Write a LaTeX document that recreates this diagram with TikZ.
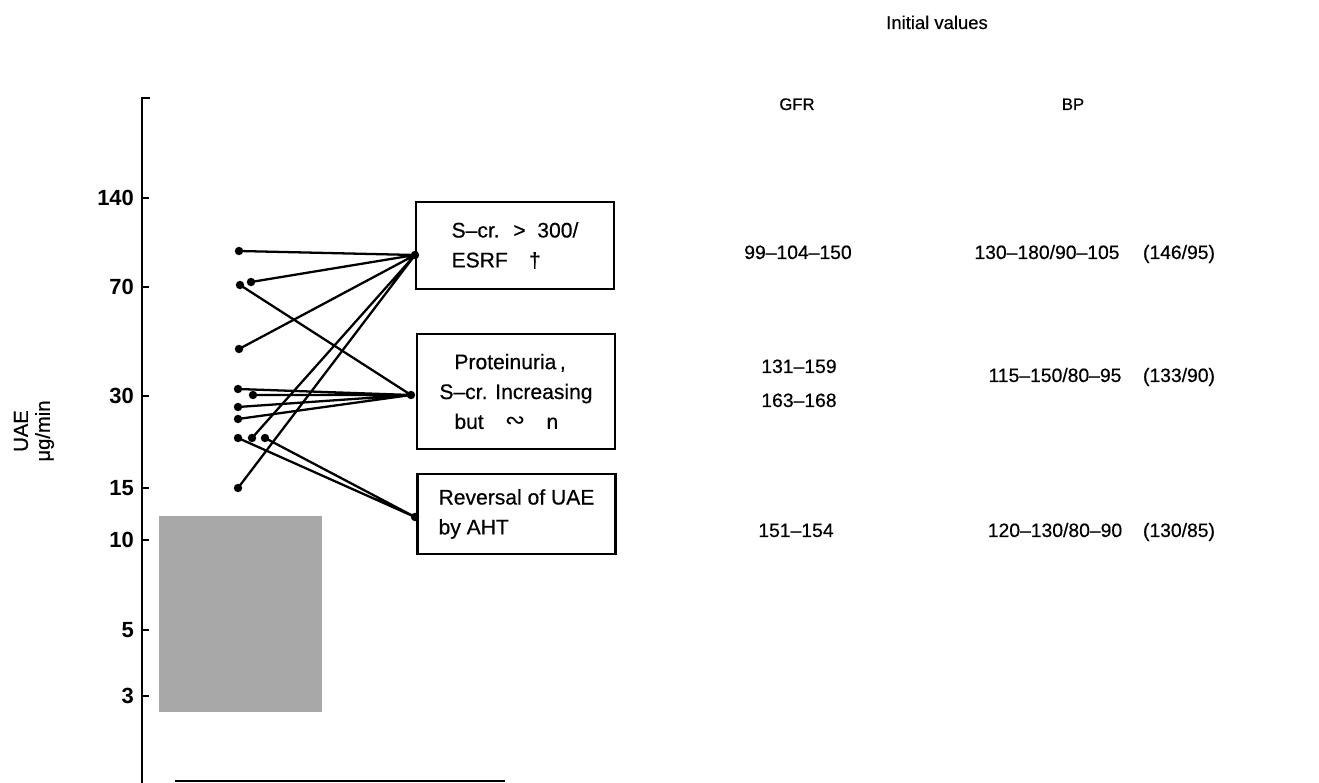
\documentclass[tikz,border=0pt]{standalone}
\usepackage{fontspec}
\setmainfont{Liberation Sans}[UprightFeatures={FakeBold=0.5}]
\newfontfamily\dvfont{DejaVu Sans}

\begin{document}
\begin{tikzpicture}[x=0.02cm, y=-0.02cm,
  dot/.style={circle, fill=black, inner sep=0pt, minimum size=4.8pt},
  stage/.style={draw, line width=1.5pt, minimum width=3.96cm, align=left, font=\fontsize{12}{17}\selectfont},
  val/.style={anchor=base, font=\fontsize{11}{13}\selectfont},
  head/.style={anchor=base, font=\fontsize{9.5}{11}\selectfont},
  ticklab/.style={anchor=east, inner sep=1pt, font=\fontsize{12.5}{14}\selectfont\bfseries}]
  \useasboundingbox (0,0) rectangle (1319,783);

  \fill[black!34] (159,516) rectangle (322,712);
  \draw[line width=1.7pt] (150,98) -- (142,98) -- (142,783);
  \draw[line width=1.3pt] (142,198) -- (149,198) (142,287) -- (149,287) (142,396) -- (149,396)
    (142,488) -- (149,488) (142,540) -- (149,540) (142,630) -- (149,630) (142,696) -- (149,696);
  \node[ticklab] (y140) at (136,198) {140};
  \node[ticklab] (y70) at (136,287) {70};
  \node[ticklab] (y30) at (136,396) {30};
  \node[ticklab] (y15) at (136,488) {15};
  \node[ticklab] (y10) at (136,540) {10};
  \node[ticklab] (y5) at (136,630) {5};
  \node[ticklab] (y3) at (136,696) {3};
  \node[rotate=90, align=center, font=\fontsize{11.5}{12.5}\selectfont] (uae) at (34,431) {UAE\\μg/min};
  \draw[line width=1.2pt] (175,781) -- (505,781);

  \node[stage, minimum height=1.74cm] (esrf) at (515,245.5) {S–cr.\; >\; 300/\\ESRF\quad †};
  \node[stage, minimum height=2.3cm] (prot) at (516,391.5) {\hspace{0.3cm}Proteinuria\,,\\S–cr. Increasing\\\hspace{0.3cm}but\quad{\dvfont\fontsize{14}{17}\selectfont ∾}\quad n};
  \node[stage, minimum height=1.6cm] (rev) at (516.5,514) {Reversal of UAE\\by AHT};

  \node[dot] (ta) at (415,255) {};
  \node[dot] (tb) at (411,395) {};
  \node[dot] (tc) at (415,517) {};
  \node[dot] (p1) at (239,251) {};
  \node[dot] (p2) at (240,285) {};
  \node[dot] (p3) at (251,282) {};
  \node[dot] (p4) at (239,349) {};
  \node[dot] (p5) at (238,389) {};
  \node[dot] (p6) at (253,395) {};
  \node[dot] (p7) at (238,407) {};
  \node[dot] (p8) at (238,419) {};
  \node[dot] (p9) at (238,438) {};
  \node[dot] (p10) at (252,438) {};
  \node[dot] (p11) at (265,438) {};
  \node[dot] (p12) at (238,488) {};
  \draw[line width=1.3pt] (p1.center) -- (ta.center) (p3.center) -- (ta.center) (p4.center) -- (ta.center)
    (p10.center) -- (ta.center) (p12.center) -- (ta.center);
  \draw[line width=1.3pt] (p2.center) -- (tb.center) (p5.center) -- (tb.center) (p6.center) -- (tb.center)
    (p7.center) -- (tb.center) (p8.center) -- (tb.center);
  \draw[line width=1.3pt] (p9.center) -- (tc.center) (p11.center) -- (tc.center);

  \node[head] (init) at (937,29) {\fontsize{10.5}{12}\selectfont Initial values};
  \node[head] (gfr) at (797,110) {GFR};
  \node[head] (bp) at (1073,110) {BP};
  \node[val] (gfra) at (798,259) {99–104–150};
  \node[val] (bpa) at (1047,259) {130–180/90–105};
  \node[val] (mbpa) at (1179,259) {(146/95)};
  \node[val] (gfrb) at (799,373) {131–159};
  \node[val] (gfrc) at (799,407) {163–168};
  \node[val] (bpb) at (1055,382) {115–150/80–95};
  \node[val] (mbpb) at (1179,382) {(133/90)};
  \node[val] (gfrd) at (796,537) {151–154};
  \node[val] (bpd) at (1055,537) {120–130/80–90};
  \node[val] (mbpd) at (1179,537) {(130/85)};
\end{tikzpicture}
\end{document}
